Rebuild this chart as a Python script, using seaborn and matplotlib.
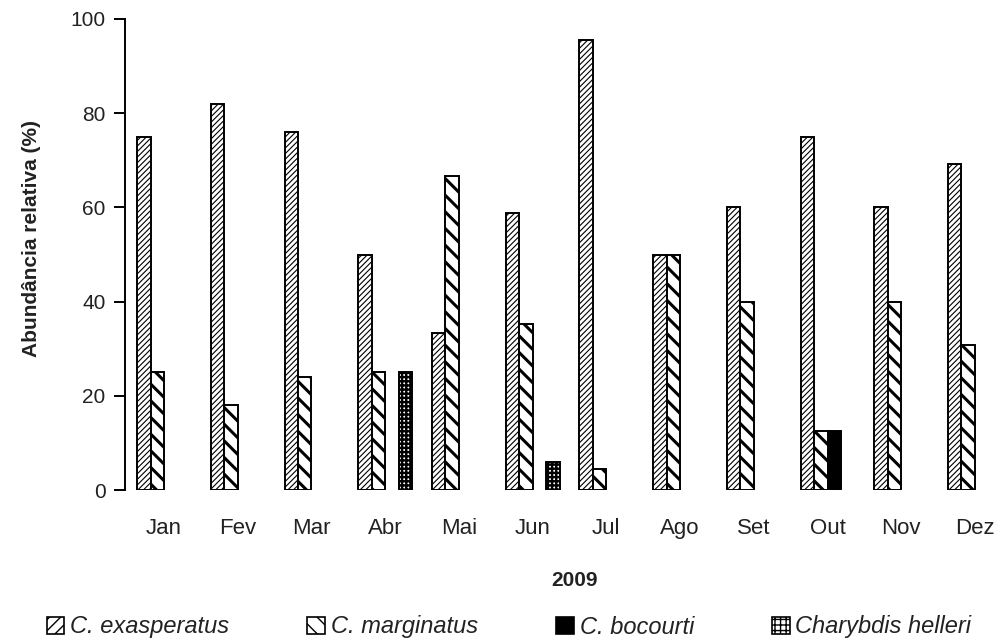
import numpy as np
import pandas as pd
import matplotlib
matplotlib.use('Agg')
import matplotlib.pyplot as plt
from matplotlib.patches import Patch
import seaborn as sns

months = ['Jan', 'Fev', 'Mar', 'Abr', 'Mai', 'Jun', 'Jul', 'Ago', 'Set', 'Out', 'Nov', 'Dez']
species = ['C. exasperatus', 'C. marginatus', 'C. bocourti', 'Charybdis helleri']

# relative abundance (%) per month, NaN where the species was absent
exasperatus = [75, 82, 76, 50, 33.3, 58.8, 95.5, 50, 60, 75, 60, 69.2]
marginatus = [25, 18, 24, 25, 66.7, 35.3, 4.5, 50, 40, 12.5, 40, 30.8]
bocourti = [np.nan] * 9 + [12.5] + [np.nan] * 2
helleri = [np.nan, np.nan, np.nan, 25, np.nan, 5.9] + [np.nan] * 6

df = pd.DataFrame({
    'mes': months * 4,
    'especie': np.repeat(species, len(months)),
    'abund': exasperatus + marginatus + bocourti + helleri,
})

sns.set_style('white')
plt.rcParams['font.family'] = ['Liberation Sans', 'DejaVu Sans']

fig = plt.figure(figsize=(10.02, 6.44), dpi=100)
ax = fig.add_axes([125 / 1002, 1 - 490 / 644, (1000 - 125) / 1002, (490 - 19) / 644])

sns.barplot(data=df, x='mes', y='abund', hue='especie', order=months, hue_order=species,
            palette=['white'] * 4, width=0.73, errorbar=None, legend=False, ax=ax)

styles = [
    dict(facecolor='white', hatch='//////', hlw=0.8),
    dict(facecolor='white', hatch='\\\\', hlw=2.2),
    dict(facecolor='black', hatch=None, hlw=1.0),
    dict(facecolor='white', hatch='++++', hlw=1.7),
]
for cont, st in zip(ax.containers, styles):
    for bar in cont:
        bar.set_facecolor(st['facecolor'])
        bar.set_edgecolor('black')
        bar.set_linewidth(1.4)
        if st['hatch']:
            bar.set_hatch(st['hatch'])
            try:
                bar.set_hatch_linewidth(st['hlw'])
            except AttributeError:
                pass

ax.set_ylim(0, 100)
ax.set_xlim(-0.53, 11.34)
ax.set_yticks([0, 20, 40, 60, 80, 100])
sns.despine(ax=ax, bottom=True)
ax.spines['left'].set_linewidth(1.4)
ax.spines['left'].set_color('black')
ax.tick_params(axis='y', left=True, direction='out', length=8, width=1.4, labelsize=15,
               colors='black', labelcolor='#222222', pad=6)
ax.tick_params(axis='x', bottom=False, labelsize=16, labelcolor='#222222', pad=17)

ax.set_ylabel('Abundância relativa (%)', fontsize=15, fontweight='bold', color='#222222')
ax.yaxis.set_label_coords(-0.096, 0.535)
ax.set_xlabel('')
fig.text(574 / 1002, 1 - 581 / 644, '2009', ha='center', va='center',
         fontsize=15, fontweight='bold', color='#222222')

handles = []
for sp, st in zip(species, styles):
    h = Patch(facecolor=st['facecolor'], edgecolor='black', hatch=st['hatch'] and st['hatch'][:3],
              linewidth=1.2, label=sp)
    handles.append(h)
leg = fig.legend(handles=handles, loc='center', bbox_to_anchor=(509 / 1002, 1 - 627 / 644),
                 ncol=4, frameon=False, handlelength=0.75, handleheight=0.75,
                 handletextpad=0.25, columnspacing=3.3,
                 prop={'size': 17, 'style': 'italic'})
for t in leg.get_texts():
    t.set_color('#222222')

fig.savefig('out.png', dpi=100)
